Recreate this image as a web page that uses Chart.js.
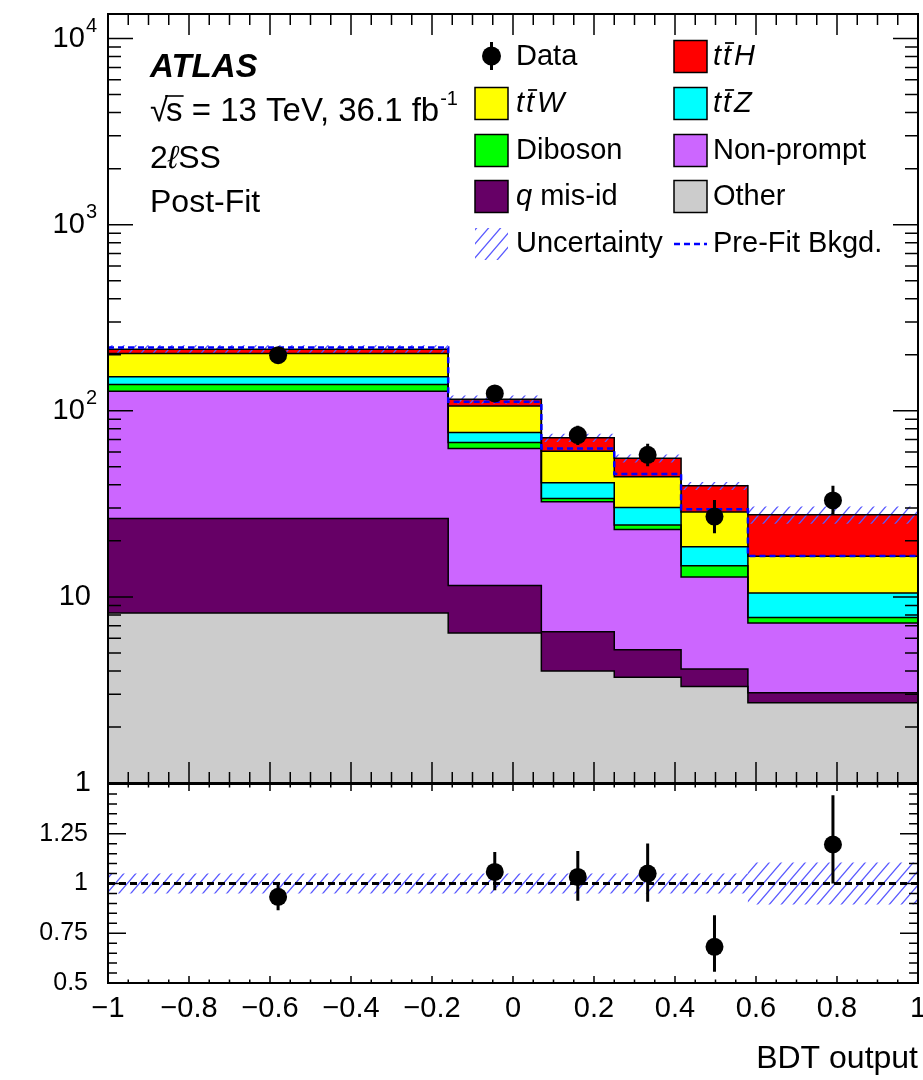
<!DOCTYPE html>
<html>
<head>
<meta charset="utf-8">
<script src="https://cdn.jsdelivr.net/npm/chart.js@4.4.1/dist/chart.umd.min.js"></script>
<style>
  html, body { margin: 0; padding: 0; background: #ffffff; }
  #wrap { position: relative; width: 923px; height: 1080px; overflow: hidden; background: #ffffff; }
  #wrap canvas { position: absolute; left: 0; }
  #mainPad { top: 0; }
  #ratioPad { top: 780px; }
</style>
</head>
<body>
<div id="wrap">
  <canvas id="mainPad" width="923" height="800"></canvas>
  <canvas id="ratioPad" width="923" height="300"></canvas>
</div>
<script>
// ---- binning of the BDT output ----
const binEdges = [-1, -0.16, 0.07, 0.25, 0.415, 0.58, 1];

// ---- post-fit yields per process (events per bin) ----
const yieldOther      = [8.2, 6.4, 4.0, 3.7, 3.3, 2.7];
const yieldQMisId     = [18.2, 5.1, 2.5, 1.5, 0.8, 0.35];
const yieldNonPrompt  = [101, 51.3, 25.9, 17.8, 8.7, 4.2];
const yieldDiboson    = [11.1, 4.8, 1.4, 1.3, 1.9, 0.5];
const yieldTTZ        = [13.7, 8.9, 7.2, 5.9, 3.9, 2.75];
const yieldTTW        = [51, 29.5, 19.7, 14, 10, 6.05];
const yieldTTH        = [11.2, 9.2, 10.9, 11.3, 10.9, 11.1];

// ---- observed data ----
const dataCounts  = [199, 124, 74, 58, 27, 33];
const dataErrUp   = [14.6, 11.6, 9.1, 8.6, 6.2, 6.6];
const dataErrDown = [14.1, 11.1, 8.6, 7.6, 5.0, 5.3];

// ---- pre-fit background and relative systematic uncertainty ----
const preFitBkgd     = [219, 111.8, 62.8, 45.7, 29.6, 16.6];
const relUncertainty = [0.05, 0.05, 0.05, 0.05, 0.05, 0.105];

// ---- data / prediction ----
const ratioValues   = [0.933, 1.058, 1.033, 1.05, 0.682, 1.196];
const ratioErrUp    = [0.07, 0.10, 0.13, 0.151, 0.159, 0.248];
const ratioErrDown  = [0.067, 0.092, 0.12, 0.142, 0.126, 0.196];

// ---- axis labels ----
const xTickValues  = [-1, -0.8, -0.6, -0.4, -0.2, 0, 0.2, 0.4, 0.6, 0.8, 1];
const xTickLabels  = ['\u22121', '\u22120.8', '\u22120.6', '\u22120.4', '\u22120.2', '0', '0.2', '0.4', '0.6', '0.8', '1'];
const logTickValues = [1, 10, 100, 1000, 10000];
const logTickExps   = [null, null, '2', '3', '4'];
const ratioTickValues = [0.5, 0.75, 1, 1.25];
const ratioTickLabels = ['0.5', '0.75', '1', '1.25'];

const FONT = '"Liberation Sans", Arial, Helvetica, sans-serif';

// ---- helpers ----
const binCenters = binEdges.slice(0, -1).map((e, i) => (e + binEdges[i + 1]) / 2);

function stepData(vals) {
  return binEdges.map((e, i) => ({ x: e, y: vals[Math.min(i, vals.length - 1)] }));
}
function pointData(vals) {
  return vals.map((v, i) => ({ x: binCenters[i], y: v }));
}
function errorBarData(vals, up, down) {
  const out = [];
  vals.forEach((v, i) => {
    out.push({ x: binCenters[i], y: v - down[i] });
    out.push({ x: binCenters[i], y: v + up[i] });
    out.push({ x: binCenters[i], y: null });
  });
  return out;
}
function hatchPattern(color) {
  const w = 12, h = 14;
  const c = document.createElement('canvas');
  c.width = w; c.height = h;
  const g = c.getContext('2d');
  g.strokeStyle = color;
  g.lineWidth = 1.3;
  g.beginPath();
  for (let s = -1; s <= 1; s++) {
    g.moveTo(s * w - w, 2 * h);
    g.lineTo(s * w + 2 * w, -h);
  }
  g.stroke();
  return g.createPattern(c, 'repeat');
}
const hatch = hatchPattern('#5a5aff');

// ---- stacked background components (bottom to top) ----
const stackComponents = [
  { label: 'Other',      values: yieldOther,     color: '#cccccc' },
  { label: 'q mis-id',   values: yieldQMisId,    color: '#660066' },
  { label: 'Non-prompt', values: yieldNonPrompt, color: '#cc66ff' },
  { label: 'Diboson',    values: yieldDiboson,   color: '#00ff00' },
  { label: 'ttZ',        values: yieldTTZ,       color: '#00ffff' },
  { label: 'ttW',        values: yieldTTW,       color: '#ffff00' },
  { label: 'ttH',        values: yieldTTH,       color: '#ff0000' }
];
let cumulative = new Array(binEdges.length - 1).fill(0);
const stackDatasets = stackComponents.map((c, k) => {
  cumulative = cumulative.map((r, i) => r + c.values[i]);
  return {
    label: c.label,
    data: stepData(cumulative.slice()),
    stepped: 'before',
    backgroundColor: c.color,
    borderColor: '#000000',
    borderWidth: 1.5,
    pointRadius: 0,
    fill: k === 0 ? 'start' : '-1'
  };
});
const totalPrediction = cumulative.slice();
const bandHigh = totalPrediction.map((t, i) => t * (1 + relUncertainty[i]));
const bandLow  = totalPrediction.map((t, i) => t * (1 - relUncertainty[i]));
const ratioBandHigh = relUncertainty.map(u => 1 + u);
const ratioBandLow  = relUncertainty.map(u => 1 - u);

// ---- ROOT-like frame with inward ticks ----
function drawXTicks(ctx, x, a, majorLen, minorLen) {
  ctx.beginPath();
  for (let k = -20; k <= 20; k++) {
    const px = x.getPixelForValue(k * 0.05);
    const len = (k % 4 === 0) ? majorLen : minorLen;
    ctx.moveTo(px, a.bottom); ctx.lineTo(px, a.bottom - len);
    ctx.moveTo(px, a.top);    ctx.lineTo(px, a.top + len);
  }
  ctx.stroke();
}

const mainAxes = {
  id: 'mainAxes',
  afterDatasetsDraw(chart) {
    const { ctx, chartArea: a, scales: { x, y } } = chart;
    ctx.save();
    ctx.strokeStyle = '#000';
    ctx.lineWidth = 1.5;
    drawXTicks(ctx, x, a, 21, 11);
    ctx.beginPath();
    for (let d = 0; d <= 4; d++) {
      for (let m = 1; m <= 9; m++) {
        const v = m * Math.pow(10, d);
        if (v > y.max) break;
        const py = y.getPixelForValue(v);
        const len = m === 1 ? 25 : 13;
        ctx.moveTo(a.left, py);  ctx.lineTo(a.left + len, py);
        ctx.moveTo(a.right, py); ctx.lineTo(a.right - len, py);
      }
    }
    ctx.stroke();
    ctx.lineWidth = 2;
    ctx.strokeRect(a.left, a.top, a.right - a.left, a.bottom - a.top);

    // y labels
    ctx.fillStyle = '#000';
    ctx.textBaseline = 'middle';
    logTickValues.forEach((v, i) => {
      const py = y.getPixelForValue(v);
      const exp = logTickExps[i];
      if (exp === null) {
        ctx.font = '29px ' + FONT;
        ctx.textAlign = 'right';
        ctx.fillText(v === 1 ? '1' : '10', 91, py);
      } else {
        ctx.font = '20px ' + FONT;
        ctx.textAlign = 'right';
        ctx.fillText(exp, 97, py - 12);
        const ew = ctx.measureText(exp).width;
        ctx.font = '29px ' + FONT;
        ctx.fillText('10', 97 - ew - 1, py);
      }
    });
    ctx.restore();
  },
  afterDraw(chart) {
    const ctx = chart.ctx;
    ctx.save();
    ctx.fillStyle = '#000';
    ctx.strokeStyle = '#000';
    ctx.textAlign = 'left';
    ctx.textBaseline = 'alphabetic';

    // experiment label block
    ctx.font = 'italic bold 33px ' + FONT;
    ctx.fillText('ATLAS', 150, 77);

    ctx.font = '33px ' + FONT;
    let cx = 150;
    ctx.fillText('\u221A', cx, 121);
    cx += ctx.measureText('\u221A').width - 2;
    const sW = ctx.measureText('s').width;
    ctx.fillText('s', cx, 121);
    ctx.lineWidth = 1.6;
    ctx.beginPath(); ctx.moveTo(cx - 1, 96); ctx.lineTo(cx + sW + 1, 96); ctx.stroke();
    cx += sW;
    const rest = ' = 13 TeV, 36.1 fb';
    ctx.fillText(rest, cx, 121);
    cx += ctx.measureText(rest).width + 1;
    ctx.font = '20px ' + FONT;
    ctx.fillText('-1', cx, 105);

    ctx.font = '32px ' + FONT;
    cx = 150;
    ctx.fillText('2', cx, 168);
    cx += ctx.measureText('2').width;
    ctx.font = 'italic 32px ' + FONT;
    ctx.fillText('\u2113', cx, 168);
    cx += ctx.measureText('\u2113').width;
    ctx.font = '32px ' + FONT;
    ctx.fillText('SS', cx, 168);
    ctx.fillText('Post-Fit', 150, 212);

    // legend
    const rows = [65, 112, 159, 205, 252];
    const c1Box = 475, c1Text = 516, c2Box = 674, c2Text = 713, bw = 33, bh = 32;
    const colorOf = name => stackComponents.find(c => c.label === name).color;
    function box(xb, base, color) {
      ctx.fillStyle = color;
      ctx.fillRect(xb, base - 24.5, bw, bh);
      ctx.lineWidth = 1.5;
      ctx.strokeStyle = '#000';
      ctx.strokeRect(xb, base - 24.5, bw, bh);
      ctx.fillStyle = '#000';
    }
    function plain(text, xt, base) {
      ctx.font = '29px ' + FONT;
      ctx.fillText(text, xt, base);
    }
    function ttbar(suffix, xt, base) {
      ctx.font = 'italic 29px ' + FONT;
      ctx.fillText('t', xt, base);
      const tw = ctx.measureText('t').width;
      const x2 = xt + tw + 2;
      ctx.fillText('t', x2, base);
      ctx.lineWidth = 1.8;
      ctx.beginPath(); ctx.moveTo(x2 + 2, base - 22); ctx.lineTo(x2 + tw + 3, base - 22); ctx.stroke();
      ctx.fillText(suffix, x2 + tw + 3, base);
    }
    // Data marker
    ctx.lineWidth = 3;
    ctx.beginPath(); ctx.moveTo(491.5, rows[0] - 23); ctx.lineTo(491.5, rows[0] + 5); ctx.stroke();
    ctx.beginPath(); ctx.arc(491.5, rows[0] - 9, 9.5, 0, Math.PI * 2); ctx.fill();
    plain('Data', c1Text, rows[0]);
    box(c2Box, rows[0], colorOf('ttH'));   ttbar('H', c2Text, rows[0]);
    box(c1Box, rows[1], colorOf('ttW'));   ttbar('W', c1Text, rows[1]);
    box(c2Box, rows[1], colorOf('ttZ'));   ttbar('Z', c2Text, rows[1]);
    box(c1Box, rows[2], colorOf('Diboson'));    plain('Diboson', c1Text, rows[2]);
    box(c2Box, rows[2], colorOf('Non-prompt')); plain('Non-prompt', c2Text, rows[2]);
    box(c1Box, rows[3], colorOf('q mis-id'));
    ctx.font = 'italic 29px ' + FONT;
    ctx.fillText('q', c1Text, rows[3]);
    const qw = ctx.measureText('q').width;
    plain(' mis-id', c1Text + qw, rows[3]);
    box(c2Box, rows[3], colorOf('Other'));      plain('Other', c2Text, rows[3]);
    ctx.fillStyle = hatch;
    ctx.fillRect(c1Box, rows[4] - 24, bw, bh);
    ctx.fillStyle = '#000';
    plain('Uncertainty', c1Text, rows[4]);
    ctx.strokeStyle = '#0000ff';
    ctx.lineWidth = 2.5;
    ctx.setLineDash([6, 4]);
    ctx.beginPath(); ctx.moveTo(c2Box, rows[4] - 8); ctx.lineTo(c2Box + bw, rows[4] - 8); ctx.stroke();
    ctx.setLineDash([]);
    plain('Pre-Fit Bkgd.', c2Text, rows[4]);
    ctx.restore();
  }
};

const ratioAxes = {
  id: 'ratioAxes',
  afterDatasetsDraw(chart) {
    const { ctx, chartArea: a, scales: { x, y } } = chart;
    ctx.save();
    ctx.strokeStyle = '#000';
    ctx.lineWidth = 1.5;
    drawXTicks(ctx, x, a, 7, 3.5);
    ctx.beginPath();
    for (let k = 0; k <= 20; k++) {
      const py = y.getPixelForValue(0.5 + k * 0.05);
      const len = (k % 5 === 0) ? 18 : 9;
      ctx.moveTo(a.left, py);  ctx.lineTo(a.left + len, py);
      ctx.moveTo(a.right, py); ctx.lineTo(a.right - len, py);
    }
    ctx.stroke();
    ctx.lineWidth = 2;
    ctx.strokeRect(a.left, a.top, a.right - a.left, a.bottom - a.top);

    ctx.fillStyle = '#000';
    ctx.font = '25px ' + FONT;
    ctx.textAlign = 'right';
    ctx.textBaseline = 'middle';
    ratioTickValues.forEach((v, i) => ctx.fillText(ratioTickLabels[i], 88, y.getPixelForValue(v)));

    ctx.font = '29px ' + FONT;
    ctx.textAlign = 'center';
    ctx.textBaseline = 'alphabetic';
    xTickValues.forEach((v, i) => ctx.fillText(xTickLabels[i], x.getPixelForValue(v), 237));

    ctx.font = '32px ' + FONT;
    ctx.textAlign = 'right';
    ctx.fillText('BDT output', 918, 288);
    ctx.restore();
  }
};

const commonOptions = {
  responsive: false,
  animation: false,
  devicePixelRatio: 1,
  events: [],
  plugins: { legend: { display: false }, tooltip: { enabled: false } }
};

// ---- main pad: stacked prediction, uncertainty, pre-fit, data ----
new Chart(document.getElementById('mainPad'), {
  type: 'line',
  data: {
    datasets: [
      { label: 'Data', data: pointData(dataCounts), showLine: false, pointRadius: 9,
        pointBackgroundColor: '#000', pointBorderWidth: 0, borderColor: '#000' },
      { label: 'Data errors', data: errorBarData(dataCounts, dataErrUp, dataErrDown),
        borderColor: '#000', borderWidth: 3, pointRadius: 0, spanGaps: false, fill: false },
      { label: 'Pre-Fit Bkgd.', data: stepData(preFitBkgd), stepped: 'before',
        borderColor: '#0000ff', borderWidth: 2.5, borderDash: [6, 4], pointRadius: 0, fill: false },
      { label: 'Uncertainty', data: stepData(bandHigh), stepped: 'before',
        borderWidth: 0, borderColor: 'rgba(0,0,0,0)', backgroundColor: hatch, pointRadius: 0, fill: '+1' },
      { label: 'Uncertainty low', data: stepData(bandLow), stepped: 'before',
        borderWidth: 0, borderColor: 'rgba(0,0,0,0)', pointRadius: 0, fill: false },
      ...stackDatasets
    ]
  },
  options: {
    ...commonOptions,
    layout: { autoPadding: false, padding: { left: 108, right: 5, top: 14, bottom: 17 } },
    scales: {
      x: { type: 'linear', min: -1, max: 1, display: false },
      y: { type: 'logarithmic', min: 1, max: 13550, display: false }
    },
    plugins: { ...commonOptions.plugins, filler: { drawTime: 'beforeDatasetsDraw' } }
  },
  plugins: [mainAxes]
});

// ---- ratio pad: data / prediction ----
new Chart(document.getElementById('ratioPad'), {
  type: 'line',
  data: {
    datasets: [
      { label: 'Ratio', data: pointData(ratioValues), showLine: false, pointRadius: 9,
        pointBackgroundColor: '#000', pointBorderWidth: 0, borderColor: '#000' },
      { label: 'Ratio errors', data: errorBarData(ratioValues, ratioErrUp, ratioErrDown),
        borderColor: '#000', borderWidth: 3, pointRadius: 0, spanGaps: false, fill: false },
      { label: 'Unity', data: [{ x: -1, y: 1 }, { x: 1, y: 1 }],
        borderColor: '#000', borderWidth: 3, borderDash: [7, 4], pointRadius: 0, fill: false },
      { label: 'Uncertainty', data: stepData(ratioBandHigh), stepped: 'before',
        borderWidth: 0, borderColor: 'rgba(0,0,0,0)', backgroundColor: hatch, pointRadius: 0, fill: '+1' },
      { label: 'Uncertainty low', data: stepData(ratioBandLow), stepped: 'before',
        borderWidth: 0, borderColor: 'rgba(0,0,0,0)', pointRadius: 0, fill: false }
    ]
  },
  options: {
    ...commonOptions,
    layout: { autoPadding: false, padding: { left: 108, right: 5, top: 4, bottom: 97 } },
    scales: {
      x: { type: 'linear', min: -1, max: 1, display: false },
      y: { type: 'linear', min: 0.5, max: 1.5, display: false }
    }
  },
  plugins: [ratioAxes]
});
</script>
</body>
</html>
